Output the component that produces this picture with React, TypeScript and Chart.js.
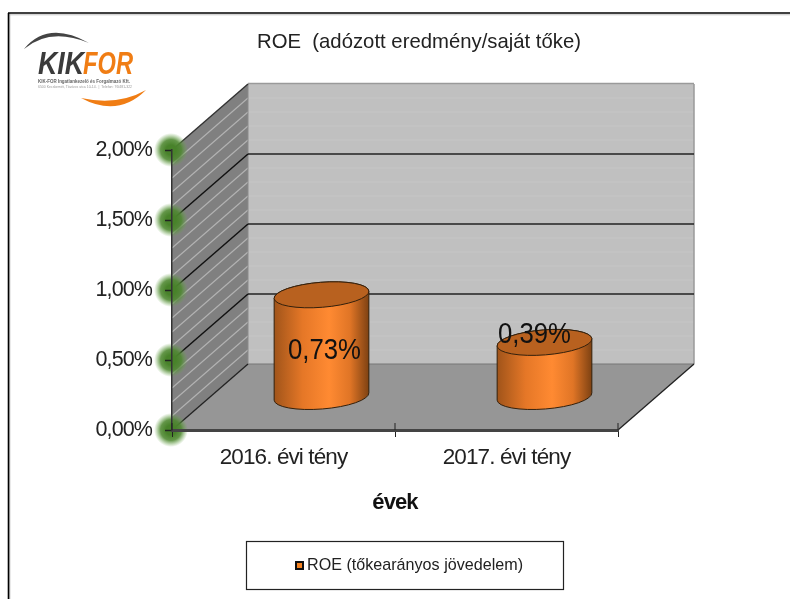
import React, { useEffect, useRef } from "react";
import { Chart, registerables } from "chart.js";

Chart.register(...registerables);

const categories = ["2016. évi tény", "2017. évi tény"];
const roeValues = [0.73, 0.39];
const yTicks = [0, 0.5, 1, 1.5, 2];
const minorTicks = [0.1, 0.2, 0.3, 0.4, 0.6, 0.7, 0.8, 0.9, 1.1, 1.2, 1.3, 1.4, 1.6, 1.7, 1.8, 1.9];
const seriesName = "ROE (tőkearányos jövedelem)";
const chartTitle = "ROE  (adózott eredmény/saját tőke)";
const axisTitle = "évek";
const logoName = "KIK-FOR Ingatlankezelő és Forgalmazó Kft.";
const logoAddress = "6500 Kecskemét, Tóváros utca 10-14.  |  Telefon: 76/481-322";

const FONT = "'Liberation Sans', Arial, sans-serif";
const DX = 76;
const DY = 66;
const labelShift = [[3, 56], [-10, -7]];

const fmt = (v: number) => v.toFixed(2).replace(".", ",") + "%";

function poly(ctx: CanvasRenderingContext2D, pts: number[][], fill: string) {
  ctx.beginPath();
  pts.forEach((p, i) => (i ? ctx.lineTo(p[0], p[1]) : ctx.moveTo(p[0], p[1])));
  ctx.closePath();
  ctx.fillStyle = fill;
  ctx.fill();
}
function line(ctx: CanvasRenderingContext2D, x1: number, y1: number, x2: number, y2: number, c: string, w: number) {
  ctx.beginPath();
  ctx.moveTo(x1, y1);
  ctx.lineTo(x2, y2);
  ctx.strokeStyle = c;
  ctx.lineWidth = w;
  ctx.stroke();
}
function squeezed(ctx: CanvasRenderingContext2D, text: string, x: number, y: number, w: number, font: string, color: string, align: CanvasTextAlign) {
  ctx.save();
  ctx.font = font;
  ctx.fillStyle = color;
  ctx.textAlign = align;
  ctx.textBaseline = "middle";
  const natural = ctx.measureText(text).width;
  ctx.translate(x, y);
  ctx.scale(w / natural, 1);
  ctx.fillText(text, 0, 0);
  ctx.restore();
}
function swoosh(ctx: CanvasRenderingContext2D, a: number[], c1: number[], b: number[], c2: number[], fill: string) {
  ctx.beginPath();
  ctx.moveTo(a[0], a[1]);
  ctx.quadraticCurveTo(c1[0], c1[1], b[0], b[1]);
  ctx.quadraticCurveTo(c2[0], c2[1], a[0], a[1]);
  ctx.fillStyle = fill;
  ctx.fill();
}
function drawLogo(ctx: CanvasRenderingContext2D) {
  swoosh(ctx, [24, 49], [48, 20], [89, 43], [50, 27], "#444");
  swoosh(ctx, [81, 98], [118, 118], [146, 90], [118, 106], "#f07d14");
  squeezed(ctx, "KIK", 38, 65, 46, `italic bold 31px ${FONT}`, "#3b3b3b", "left");
  squeezed(ctx, "FOR", 83, 65, 50, `italic bold 31px ${FONT}`, "#f07d14", "left");
  squeezed(ctx, logoName, 38, 81.5, 92, `bold 5px ${FONT}`, "#666", "left");
  squeezed(ctx, logoAddress, 38, 87, 94, `4px ${FONT}`, "#999", "left");
}

const sceneryPlugin = {
  id: "scenery",
  beforeDraw(chart: any) {
    const { ctx, chartArea: a, scales } = chart;
    const y = scales.y;
    const l = a.left, r = a.right, b = a.bottom, t = y.getPixelForValue(2);
    ctx.save();
    ctx.fillStyle = "#fff";
    ctx.fillRect(0, 0, chart.width, chart.height);
    // outer frame
    line(ctx, 8, 14.8, 790, 14.8, "#c4c4c4", 1);
    line(ctx, 9.8, 13, 9.8, 599, "#b4b4b4", 1);
    line(ctx, 8, 13, 790, 13, "#000", 1.6);
    line(ctx, 8.5, 13, 8.5, 599, "#000", 1.6);
    // back wall
    poly(ctx, [[l + DX, t - DY], [r + DX, t - DY], [r + DX, b - DY], [l + DX, b - DY]], "#c0c0c0");
    minorTicks.forEach((v) => {
      const p = y.getPixelForValue(v);
      line(ctx, l + DX, p - DY, r + DX, p - DY, "#c6c6c6", 1.2);
    });
    // side wall
    poly(ctx, [[l, t], [l + DX, t - DY], [l + DX, b - DY], [l, b]], "#808080");
    minorTicks.forEach((v) => {
      const p = y.getPixelForValue(v);
      line(ctx, l, p, l + DX, p - DY, "#b2b2b2", 1.2);
    });
    // floor
    poly(ctx, [[l, b], [r, b], [r + DX, b - DY], [l + DX, b - DY]], "#969696");
    // edges of the wall
    line(ctx, l + DX, t - DY - 0.5, r + DX, t - DY - 0.5, "#9a9a9a", 1.5);
    line(ctx, r + DX, t - DY, r + DX, b - DY, "#9a9a9a", 1.5);
    line(ctx, l + DX, b - DY, r + DX, b - DY, "#777", 1.2);
    line(ctx, l + DX, t - DY, l + DX, b - DY, "#8a8a8a", 1);
    yTicks.forEach((v) => {
      const p = y.getPixelForValue(v);
      if (v > 0 && v < 2) {
        line(ctx, l, p, l + DX, p - DY, "#111", 1.5);
        line(ctx, l + DX, p - DY, r + DX, p - DY, "#222", 1.5);
      }
    });
    line(ctx, l, b, l + DX, b - DY, "#222", 1.3);
    line(ctx, l, t, l + DX, t - DY, "#333", 1.4);
    line(ctx, r, b, r + DX, b - DY, "#222", 1.3);
    // green glow behind the value ticks
    yTicks.forEach((v) => {
      const p = y.getPixelForValue(v);
      const g = ctx.createRadialGradient(l - 1, p, 5, l - 1, p, 17);
      g.addColorStop(0, "rgba(72,130,42,1)");
      g.addColorStop(0.45, "rgba(78,136,48,0.88)");
      g.addColorStop(1, "rgba(110,170,80,0)");
      ctx.fillStyle = g;
      ctx.beginPath();
      ctx.arc(l - 1, p, 17, 0, Math.PI * 2);
      ctx.fill();
    });
    drawLogo(ctx);
    squeezed(ctx, chartTitle, 419, 42, 324, `21px ${FONT}`, "#222", "center");
    ctx.restore();
    // tighten the axis text the library draws next
    ctx.letterSpacing = "-0.9px";
  },
  afterDatasetsDraw(chart: any) {
    const { ctx, chartArea: a, scales } = chart;
    const x = scales.x;
    const b = a.bottom;
    const meta = chart.getDatasetMeta(0);
    ctx.letterSpacing = "0px";
    ctx.save();
    // axis upper tick halves
    line(ctx, a.left, b - 7, a.left, b, "#222", 1);
    [0, 1].forEach((i) => {
      const e = x.getPixelForTick(i) + (x.getPixelForTick(1) - x.getPixelForTick(0)) / 2;
      line(ctx, e, b - 7, e, b, "#222", 1);
    });
    meta.data.forEach((el: any, i: number) => {
      const rx = el.width / 2;
      const ry = 12.5;
      const rot = (-4.5 * Math.PI) / 180;
      const cx = el.x + DX / 2;
      const by = el.base - DY / 2;
      const ty = el.y - DY / 2;
      const g = ctx.createLinearGradient(cx - rx, 0, cx + rx, 0);
      g.addColorStop(0, "#a0541a");
      g.addColorStop(0.3, "#e57727");
      g.addColorStop(0.58, "#ff8a32");
      g.addColorStop(0.8, "#e07526");
      g.addColorStop(1, "#7d4112");
      ctx.beginPath();
      ctx.ellipse(cx, by, rx, ry, rot, 0, Math.PI);
      ctx.ellipse(cx, ty, rx, ry, rot, Math.PI, 0);
      ctx.closePath();
      ctx.fillStyle = g;
      ctx.fill();
      ctx.strokeStyle = "#33200c";
      ctx.lineWidth = 1;
      ctx.stroke();
      ctx.beginPath();
      ctx.ellipse(cx, ty, rx, ry, rot, 0, Math.PI * 2);
      ctx.fillStyle = "#b8611f";
      ctx.fill();
      ctx.stroke();
      squeezed(ctx, fmt(roeValues[i]), cx + labelShift[i][0], ty + labelShift[i][1], 73, `29px ${FONT}`, "#111", "center");
    });
    // legend
    ctx.fillStyle = "#fff";
    ctx.fillRect(247, 542, 316, 47);
    ctx.strokeStyle = "#222";
    ctx.lineWidth = 1.2;
    ctx.strokeRect(246.5, 541.5, 317, 48);
    ctx.fillStyle = "#f58220";
    ctx.fillRect(296, 562, 7, 7);
    ctx.strokeStyle = "#111";
    ctx.lineWidth = 2;
    ctx.strokeRect(296, 562, 7, 7);
    squeezed(ctx, seriesName, 307, 565, 216, `17px ${FONT}`, "#222", "left");
    ctx.restore();
  },
};

export default function App() {
  const ref = useRef<HTMLCanvasElement | null>(null);
  useEffect(() => {
    const chart = new Chart(ref.current as HTMLCanvasElement, {
      type: "bar",
      data: {
        labels: categories,
        datasets: [
          {
            label: seriesName,
            data: roeValues,
            backgroundColor: "rgba(0,0,0,0)",
            borderWidth: 0,
            categoryPercentage: 1,
            barPercentage: 0.426,
          },
        ],
      },
      options: {
        responsive: false,
        animation: false,
        layout: { padding: { left: 0, top: 150, right: 172, bottom: 0 } },
        plugins: { legend: { display: false }, tooltip: { enabled: false } },
        scales: {
          x: {
            afterFit: (s: any) => { s.height = 169; },
            grid: { drawOnChartArea: false, tickLength: 7, tickColor: "#222", tickWidth: 1 },
            border: { color: "#444", width: 3 },
            ticks: { color: "#222", font: { family: FONT, size: 22.5 }, padding: 7, maxRotation: 0 },
            title: {
              display: true,
              text: axisTitle,
              color: "#111",
              font: { family: FONT, size: 22, weight: "bold" },
              padding: { top: 18, bottom: 83 },
            },
          },
          y: {
            min: 0,
            max: 2,
            afterFit: (s: any) => { s.width = 172; },
            afterBuildTicks: (s: any) => { s.ticks = yTicks.map((value) => ({ value })); },
            grid: { drawOnChartArea: false, tickLength: 7, tickColor: "#222", tickWidth: 1.5 },
            border: { color: "#333", width: 1.5 },
            ticks: {
              color: "#222",
              font: { family: FONT, size: 21.5 },
              padding: 13,
              callback: (v: any) => fmt(Number(v)),
            },
          },
        },
      },
      plugins: [sceneryPlugin],
    } as any);
    return () => chart.destroy();
  }, []);
  return (
    <canvas
      ref={ref}
      width={790}
      height={599}
      style={{ position: "absolute", left: 0, top: 0, display: "block", filter: "blur(0.4px)" }}
    />
  );
}
